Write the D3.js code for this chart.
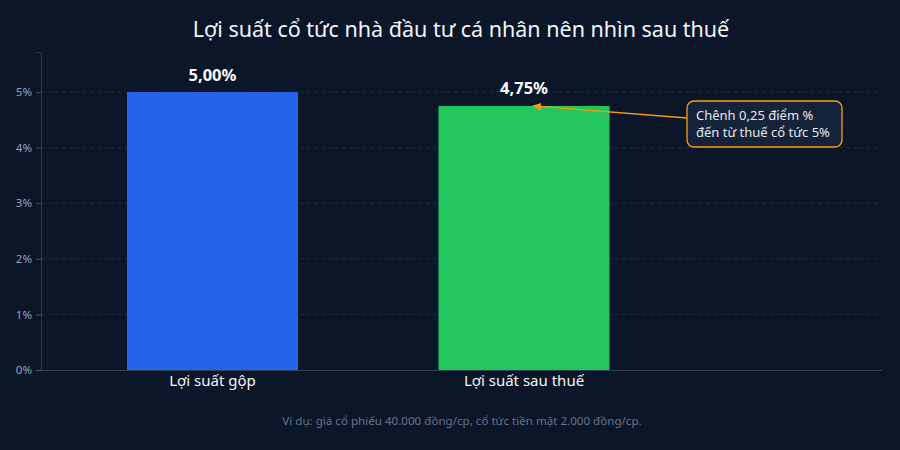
<!DOCTYPE html>
<html><head><meta charset="utf-8">
<script src="https://cdn.jsdelivr.net/npm/d3@7"></script>
<style>
html,body{margin:0;padding:0;background:#0b1628;}
svg{display:block;font-family:"Noto Sans",sans-serif;}
</style></head>
<body><svg id="c" width="900" height="450"></svg>
<script>
const categories = ["Lợi suất gộp", "Lợi suất sau thuế"];
const values = [5.00, 4.75];
const valueLabels = ["5,00%", "4,75%"];
const colors = ["#2563eb", "#22c55e"];
const yTicks = [0, 1, 2, 3, 4, 5];
const title = "Lợi suất cổ tức nhà đầu tư cá nhân nên nhìn sau thuế";
const note = "Ví dụ: giá cổ phiếu 40.000 đồng/cp, cổ tức tiền mặt 2.000 đồng/cp.";
const annoLines = ["Chênh 0,25 điểm %", "đến từ thuế cổ tức 5%"];

const svg = d3.select("#c");
const W = 900, H = 450;
svg.append("rect").attr("width", W).attr("height", H).attr("fill", "#0b1628");

const y = d3.scaleLinear().domain([0, 5.72]).range([370, 52]);
const x = d3.scaleBand().domain(categories).range([41, 695.5]).paddingInner(0.451).paddingOuter(0.276);

// grid
svg.append("g").selectAll("line").data(yTicks.filter(d => d > 0)).join("line")
  .attr("x1", 41).attr("x2", 882).attr("y1", d => y(d)).attr("y2", d => y(d))
  .attr("stroke", "#1e2c42").attr("stroke-width", 1).attr("stroke-dasharray", "4,3");

// y axis
const ya = svg.append("g").attr("transform", "translate(41,0)")
  .call(d3.axisLeft(y).tickValues(yTicks).tickFormat(d => d + "%").tickSize(5).tickPadding(4));
ya.select(".domain").attr("stroke", "#2b3a50");
ya.selectAll(".tick line").attr("stroke", "#475569");
ya.selectAll(".tick text").attr("fill", "#94a3b8").attr("font-size", 11.5).attr("font-family", "Noto Sans");

// x axis baseline
svg.append("line").attr("x1", 41).attr("x2", 882).attr("y1", 370.5).attr("y2", 370.5).attr("stroke", "#334155");

// bars
svg.append("g").selectAll("rect").data(values).join("rect")
  .attr("x", (d, i) => x(categories[i])).attr("width", x.bandwidth())
  .attr("y", d => y(d)).attr("height", d => y(0) - y(d))
  .attr("fill", (d, i) => colors[i]);

// value labels
svg.append("g").selectAll("text").data(values).join("text")
  .attr("x", (d, i) => x(categories[i]) + x.bandwidth() / 2).attr("y", d => y(d) - 11.5)
  .attr("text-anchor", "middle").attr("fill", "#f8fafc").attr("font-size", 16.5).attr("font-weight", "bold")
  .text((d, i) => valueLabels[i]);

// category labels
svg.append("g").selectAll("text").data(categories).join("text")
  .attr("x", d => x(d) + x.bandwidth() / 2).attr("y", 386)
  .attr("text-anchor", "middle").attr("fill", "#f1f5f9").attr("font-size", 15)
  .text(d => d);

// title
svg.append("text").attr("x", 461).attr("y", 36.5).attr("text-anchor", "middle")
  .attr("fill", "#f1f5f9").attr("font-size", 21.5).text(title);

// note
svg.append("text").attr("x", 462).attr("y", 425).attr("text-anchor", "middle")
  .attr("fill", "#64748b").attr("font-size", 11.6).text(note);

// annotation
const defs = svg.append("defs");
defs.append("marker").attr("id", "ah").attr("viewBox", "0 0 10 10").attr("refX", 9).attr("refY", 5)
  .attr("markerWidth", 7).attr("markerHeight", 7).attr("orient", "auto-start-reverse")
  .append("path").attr("d", "M0,1 L10,5 L0,9 z").attr("fill", "#f59e0b");
const tipX = x(categories[1]) + x.bandwidth() / 2 + 9, tipY = y(values[1]);
svg.append("line").attr("x1", 687).attr("y1", 118).attr("x2", tipX).attr("y2", tipY)
  .attr("stroke", "#f59e0b").attr("stroke-width", 1.3).attr("marker-end", "url(#ah)");
svg.append("rect").attr("x", 687).attr("y", 101).attr("width", 155).attr("height", 46).attr("rx", 7)
  .attr("fill", "#15233a").attr("stroke", "#f59e0b").attr("stroke-width", 1.3);
svg.append("g").selectAll("text").data(annoLines).join("text")
  .attr("x", 696).attr("y", (d, i) => 120 + i * 17).attr("fill", "#e2e8f0").attr("font-size", 13).text(d => d);
</script></body></html>
